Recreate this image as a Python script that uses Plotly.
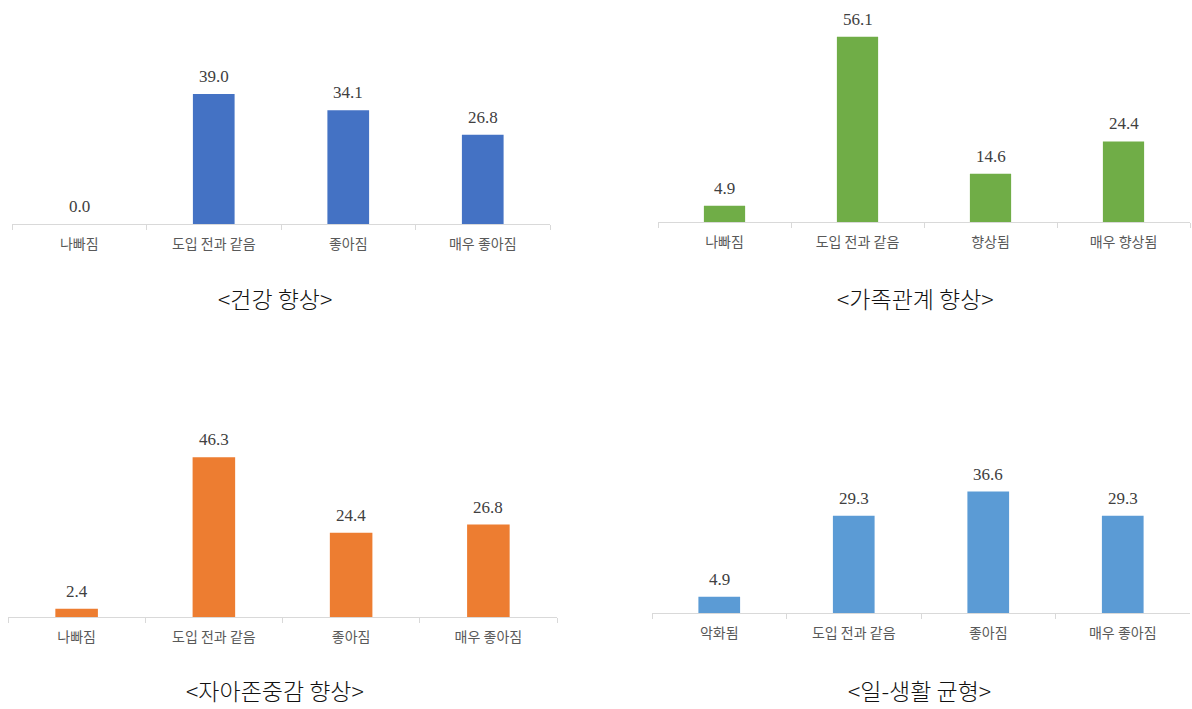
import plotly.graph_objects as go

W, H = 1192, 709

# Survey results (%) for four outcome questions
health_cats = ["나빠짐", "도입 전과 같음", "좋아짐", "매우 좋아짐"]
health_vals = [0.0, 39.0, 34.1, 26.8]

family_cats = ["나빠짐", "도입 전과 같음", "향상됨", "매우 향상됨"]
family_vals = [4.9, 56.1, 14.6, 24.4]

esteem_cats = ["나빠짐", "도입 전과 같음", "좋아짐", "매우 좋아짐"]
esteem_vals = [2.4, 46.3, 24.4, 26.8]

balance_cats = ["악화됨", "도입 전과 같음", "좋아짐", "매우 좋아짐"]
balance_vals = [4.9, 29.3, 36.6, 29.3]

titles = ["<건강 향상>", "<가족관계 향상>", "<자아존중감 향상>", "<일-생활 균형>"]

# panel layout in pixels: (x0, x1, y_top, y_axis)
panels = [
    (health_cats, health_vals, "#4472C4", (12, 550, 24, 224), titles[0], (275, 298)),
    (family_cats, family_vals, "#70AD47", (658, 1190, 24, 222), titles[1], (916, 298)),
    (esteem_cats, esteem_vals, "#ED7D31", (8, 557, 410, 617), titles[2], (275, 690)),
    (balance_cats, balance_vals, "#5B9BD5", (652, 1190, 414, 613), titles[3], (919, 690)),
]

YMAX = 60
fig = go.Figure()
annotations = []
for i, (cats, vals, color, (x0, x1, yt, ya), title, (tx, ty)) in enumerate(panels):
    n = i + 1
    xa = "x" if n == 1 else f"x{n}"
    ya_name = "y" if n == 1 else f"y{n}"
    fig.add_trace(go.Bar(
        x=cats, y=vals, marker_color=color, marker_line_width=0,
        xaxis=xa, yaxis=ya_name, showlegend=False, hoverinfo="skip",
    ))
    for c, v in zip(cats, vals):
        annotations.append(dict(
            x=c, y=v, xref=xa, yref=ya_name, text=f"{v:.1f}", showarrow=False,
            yanchor="bottom", yshift=6,
            font=dict(family="Liberation Serif, DejaVu Serif", size=17, color="#404040"),
        ))
    annotations.append(dict(
        x=tx / W, y=1 - ty / H, xref="paper", yref="paper", text=title,
        showarrow=False, xanchor="center", yanchor="middle",
        font=dict(family="Noto Sans CJK KR", size=23, color="#111111", weight=300),
    ))
    xkey = "xaxis" if n == 1 else f"xaxis{n}"
    ykey = "yaxis" if n == 1 else f"yaxis{n}"
    fig.update_layout(**{
        xkey: dict(
            domain=[x0 / W, x1 / W], anchor=ya_name,
            showline=True, linecolor="#D9D9D9", linewidth=1,
            ticks="outside", tickson="boundaries", ticklen=5, tickcolor="#D9D9D9",
            tickfont=dict(family="Noto Sans CJK KR", size=14, color="#595959"),
            ticklabelstandoff=7, showgrid=False, fixedrange=True,
        ),
        ykey: dict(
            domain=[1 - ya / H, 1 - yt / H], anchor=xa, range=[0, YMAX],
            visible=False, showgrid=False, zeroline=False, fixedrange=True,
        ),
    })

fig.update_layout(
    width=W, height=H, margin=dict(l=0, r=0, t=0, b=0),
    paper_bgcolor="white", plot_bgcolor="white",
    bargap=0.69, annotations=annotations,
)
fig.update_traces(cliponaxis=False)

fig.write_html("out.html")
